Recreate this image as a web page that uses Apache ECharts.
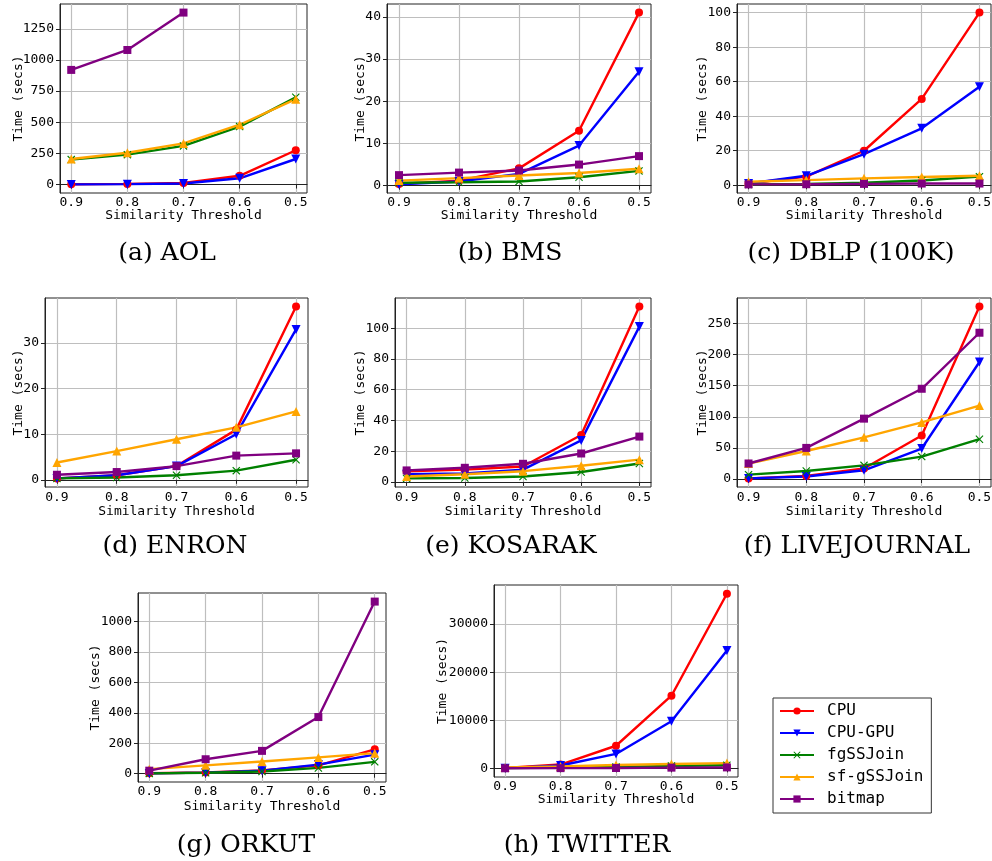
<!DOCTYPE html>
<html>
<head>
<meta charset="utf-8">
<script src="https://cdn.jsdelivr.net/npm/echarts@6/dist/echarts.min.js"></script>
<style>
  html, body { margin: 0; padding: 0; background: #fff; }
  #chart { width: 992px; height: 861px; }
</style>
</head>
<body>
<div id="chart"></div>
<script>
// x axis: similarity threshold, drawn from 0.9 down to 0.5
const thresholds = [0.9, 0.8, 0.7, 0.6, 0.5];
const methods = ['CPU', 'CPU-GPU', 'fgSSJoin', 'sf-gSSJoin', 'bitmap'];

// time in secs, one row per method (same order as methods)
const aolTimes = [
  [2, 5, 12, 70, 275],
  [1, 3, 8, 50, 205],
  [200, 240, 310, 465, 700],
  [205, 255, 330, 480, 685],
  [920, 1080, 1380, null, null]
];
const bmsTimes = [
  [0.4, 1.2, 4.1, 13, 41],
  [0.3, 1.0, 2.8, 9.5, 27],
  [0.7, 0.8, 1.0, 2.0, 3.5],
  [1.2, 1.8, 2.4, 3.0, 4.0],
  [2.5, 3.1, 3.6, 5.0, 7.0]
];
const dblpTimes = [
  [1, 5, 20, 50, 100],
  [1, 5.5, 18, 33, 57],
  [0.5, 0.8, 1.5, 2.8, 5],
  [2, 3, 4, 4.8, 5.5],
  [0.5, 0.6, 0.8, 1, 1]
];
const enronTimes = [
  [0.3, 1.0, 3.0, 11, 38],
  [0.3, 1.0, 3.0, 10, 33],
  [0.3, 0.5, 1.0, 2.0, 4.4],
  [3.8, 6.3, 8.9, 11.5, 15],
  [1.1, 1.7, 3.0, 5.3, 5.8]
];
const kosarakTimes = [
  [7, 8, 10, 30.5, 114],
  [5, 5.5, 8, 27, 101],
  [2.3, 2.6, 3.5, 6.5, 12],
  [3.5, 5, 7, 10.5, 14.5],
  [7.5, 9.2, 11.8, 18.5, 29.5]
];
const livejournalTimes = [
  [1, 5, 17, 70, 277],
  [1, 4, 14, 49, 188],
  [7, 13, 22, 36, 64],
  [25, 45, 67, 91, 118],
  [25, 50, 97, 145, 235]
];
const orkutTimes = [
  [3, 8, 22, 55, 160],
  [2, 7, 20, 60, 125],
  [2, 6, 15, 38, 78],
  [30, 55, 80, 107, 135],
  [20, 95, 150, 372, 1130]
];
const twitterTimes = [
  [100, 800, 4700, 15100, 36300],
  [50, 600, 3000, 9800, 24500],
  [50, 150, 300, 500, 650],
  [200, 400, 700, 900, 1100],
  [20, 50, 80, 150, 200]
];

// y tick labels per panel
const aolTicks = [0, 250, 500, 750, 1000, 1250];
const bmsTicks = [0, 10, 20, 30, 40];
const dblpTicks = [0, 20, 40, 60, 80, 100];
const enronTicks = [0, 10, 20, 30];
const kosarakTicks = [0, 20, 40, 60, 80, 100];
const livejournalTicks = [0, 50, 100, 150, 200, 250];
const orkutTicks = [0, 200, 400, 600, 800, 1000];
const twitterTicks = [0, 10000, 20000, 30000];

const captions = ['(a) AOL', '(b) BMS', '(c) DBLP (100K)', '(d) ENRON',
  '(e) KOSARAK', '(f) LIVEJOURNAL', '(g) ORKUT', '(h) TWITTER'];

const panelTimes = [aolTimes, bmsTimes, dblpTimes, enronTimes,
  kosarakTimes, livejournalTimes, orkutTimes, twitterTimes];
const panelTicks = [aolTicks, bmsTicks, dblpTicks, enronTicks,
  kosarakTicks, livejournalTicks, orkutTicks, twitterTicks];

// layout of each subplot (pixels)
const layout = [
  { left: 60,  top: 4,   width: 247, height: 189, yGap: 35, xGap: 16, lblGap: 3, cx: 167, cy: 253 },
  { left: 387, top: 4,   width: 264, height: 189, yGap: 20, xGap: 16, lblGap: 3, cx: 510, cy: 253 },
  { left: 737, top: 4,   width: 254, height: 189, yGap: 28, xGap: 16, lblGap: 3, cx: 851, cy: 253 },
  { left: 45,  top: 298, width: 263, height: 189, yGap: 20, xGap: 18, lblGap: 4, cx: 175, cy: 546 },
  { left: 395, top: 298, width: 256, height: 189, yGap: 28, xGap: 18, lblGap: 4, cx: 511, cy: 546 },
  { left: 737, top: 298, width: 254, height: 189, yGap: 28, xGap: 18, lblGap: 4, cx: 857, cy: 546 },
  { left: 138, top: 593, width: 248, height: 189, yGap: 36, xGap: 18, lblGap: 3, cx: 246, cy: 845 },
  { left: 494, top: 585, width: 244, height: 192, yGap: 45, xGap: 16, lblGap: 3, cx: 587, cy: 845 }
];

const colors = ['#ff0000', '#0000ff', '#008000', '#ffa500', '#800080'];
const crossPath = 'path://M1,0L5,4L9,0L10,1L6,5L10,9L9,10L5,6L1,10L0,9L4,5L0,1Z';
const symbols = [
  { symbol: 'circle', symbolSize: 8, symbolRotate: 0 },
  { symbol: 'triangle', symbolSize: 9, symbolRotate: 180 },
  { symbol: crossPath, symbolSize: 8, symbolRotate: 0 },
  { symbol: 'triangle', symbolSize: 9, symbolRotate: 0 },
  { symbol: 'rect', symbolSize: 8, symbolRotate: 0 }
];

const mono = 'DejaVu Sans Mono';
const grids = [], xAxes = [], yAxes = [], series = [], graphics = [];

layout.forEach((p, i) => {
  grids.push({
    left: p.left, top: p.top, width: p.width, height: p.height,
    outerBoundsMode: 'none', containLabel: false,
    show: true, borderColor: '#222', borderWidth: 1, backgroundColor: '#fff'
  });
  xAxes.push({
    gridIndex: i, type: 'value', inverse: true, min: 0.48, max: 0.92,
    name: 'Similarity Threshold', nameLocation: 'middle', nameGap: p.xGap,
    nameMoveOverlap: false,
    nameTextStyle: { fontFamily: mono, fontSize: 13, color: '#000' },
    axisLine: { show: true, lineStyle: { color: '#222' } },
    axisTick: { show: true, length: 4, customValues: thresholds, lineStyle: { color: '#222' } },
    axisLabel: {
      customValues: thresholds, margin: p.lblGap,
      fontFamily: mono, fontSize: 13, color: '#000',
      formatter: v => v.toFixed(1)
    },
    splitLine: { show: true, lineStyle: { color: '#bebebe', width: 1.2 } }
  });
  const ticks = panelTicks[i];
  yAxes.push({
    gridIndex: i, type: 'value',
    min: v => v.min - 0.05 * (v.max - v.min),
    max: v => v.max + 0.05 * (v.max - v.min),
    name: 'Time (secs)', nameLocation: 'middle', nameGap: p.yGap,
    nameMoveOverlap: false,
    nameTextStyle: { fontFamily: mono, fontSize: 13, color: '#000' },
    axisLine: { show: true, lineStyle: { color: '#222' } },
    axisTick: { show: true, length: 4, customValues: ticks, lineStyle: { color: '#222' } },
    axisLabel: {
      customValues: ticks, margin: 6, fontFamily: mono, fontSize: 13, color: '#000',
      formatter: v => String(v)
    },
    splitLine: { show: true, lineStyle: { color: '#bebebe', width: 1.2 } }
  });
  panelTimes[i].forEach((vals, m) => {
    series.push({
      name: methods[m], type: 'line', xAxisIndex: i, yAxisIndex: i,
      data: thresholds.map((t, k) => [t, vals[k]]),
      symbol: symbols[m].symbol, symbolSize: symbols[m].symbolSize,
      symbolRotate: symbols[m].symbolRotate,
      showAllSymbol: true, connectNulls: false,
      lineStyle: { color: colors[m], width: 2.4 },
      itemStyle: { color: colors[m] },
      emphasis: { disabled: true }
    });
  });
  graphics.push({
    type: 'text', x: p.cx, y: p.cy,
    style: { text: captions[i], font: '25px "DejaVu Serif"', fill: '#000',
      align: 'center', verticalAlign: 'middle' }
  });
});

const chart = echarts.init(document.getElementById('chart'));
chart.setOption({
  animation: false,
  backgroundColor: '#fff',
  grid: grids,
  xAxis: xAxes,
  yAxis: yAxes,
  series: series,
  legend: {
    data: methods, orient: 'vertical', left: 773, top: 698,
    itemWidth: 34, itemHeight: 9, itemGap: 6,
    padding: [5, 8, 6, 6],
    borderColor: '#333', borderWidth: 1, borderRadius: 0,
    backgroundColor: '#fff',
    textStyle: { fontFamily: mono, fontSize: 16, color: '#000', lineHeight: 16, padding: [0, 0, 0, 8] }
  },
  graphic: graphics
});
</script>
</body>
</html>
